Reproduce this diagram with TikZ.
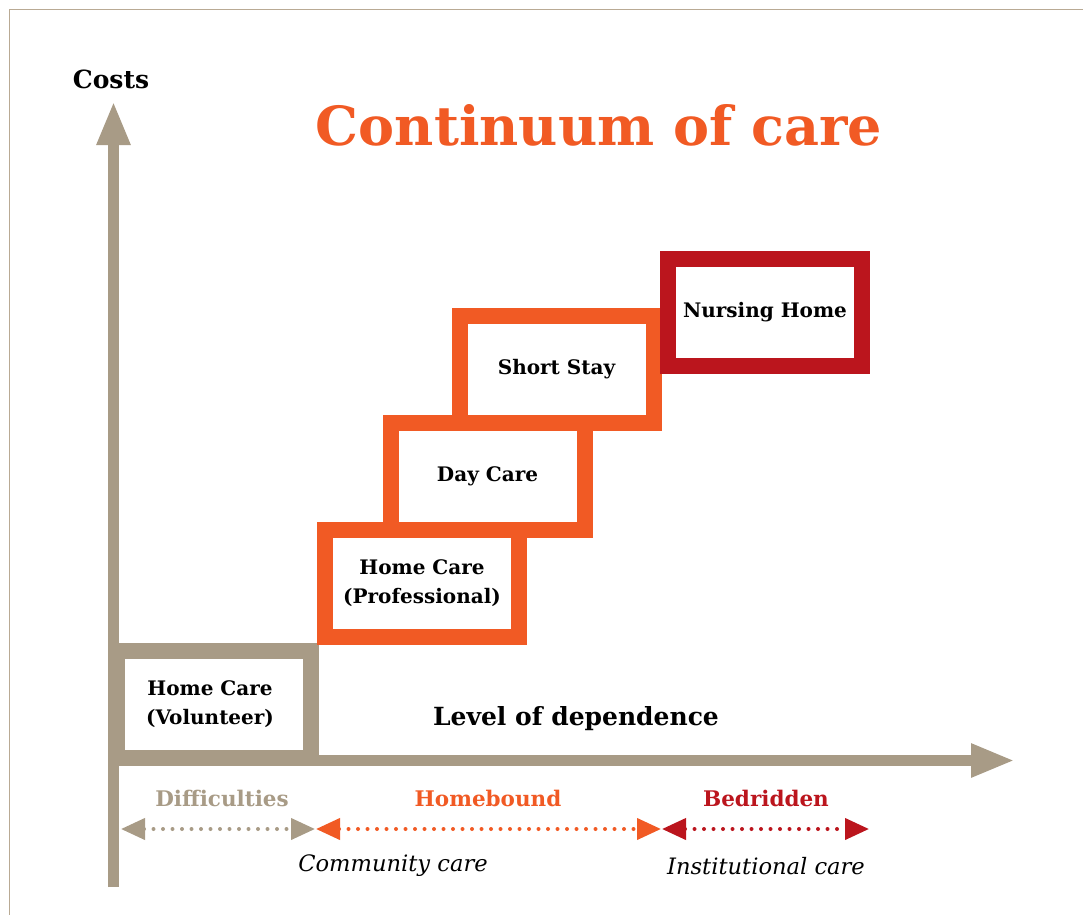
\documentclass[tikz,border=0pt]{standalone}
\usepackage{fontspec}
\setmainfont{DejaVu Serif}
\usepackage{tikz}
\usetikzlibrary{arrows.meta}
\definecolor{caretan}{RGB}{168,155,134}
\definecolor{frametan}{RGB}{185,170,148}
\definecolor{careorange}{RGB}{241,90,36}
\definecolor{carered}{RGB}{187,21,29}

\tikzset{
  stepbox/.style={draw=#1, line width=16pt, fill=white, minimum width=194pt,
    minimum height=107pt, inner sep=0pt, align=center,
    font=\fontsize{20}{29}\selectfont\bfseries},
  axisline/.style={caretan, line width=11pt, -{Triangle[length=44pt,width=31pt]}},
  stagearrow/.style={#1, line width=4pt, line cap=round, dash pattern=on 0pt off 9.5pt,
    {Triangle[length=24pt,width=21pt]}-{Triangle[length=24pt,width=21pt]}},
  stagelabel/.style={text=#1, font=\fontsize{21.5}{24}\selectfont\bfseries},
  carelabel/.style={font=\fontsize{22.6}{26}\selectfont\itshape}
}

\begin{document}
\begin{tikzpicture}[x=1pt,y=-1pt]
    \useasboundingbox (0,0) rectangle (1083,915);
    % Draw frame
    \draw[frametan, line width=1.5pt] (1083,9.5) -- (9.5,9.5) -- (9.5,915);

    % Draw axes
    \coordinate (origin) at (113.5,760.5);
    \coordinate (ybottom) at (113.5,887);
    \coordinate (ytop) at (113.5,101);
    \coordinate (xend) at (1015,760.5);
    \draw[axisline] (ybottom) -- (ytop);
    \draw[axisline] (108,760.5) -- (xend);

    \node[font=\fontsize{25}{28}\selectfont\bfseries] (costs) at (111,79) {Costs};
    \node[font=\fontsize{25}{28}\selectfont\bfseries] (dependence) at (576,719) {Level of dependence};
    \node[text=careorange, font=\fontsize{54}{60}\selectfont\bfseries] (title) at (599,125) {Continuum of care};

    % Draw steps
    \node[stepbox=caretan] (volunteer) at (214,704.5) {\hspace*{-8pt}Home Care\\\hspace*{-8pt}(Volunteer)};
    \node[stepbox=careorange] (professional) at (422,583.5) {Home Care\\(Professional)};
    \node[stepbox=careorange] (daycare) at (487.5,476) {Day Care};
    \node[stepbox=careorange] (shortstay) at (556.5,369.5) {Short Stay};
    \node[stepbox=carered] (nursing) at (765,312) {Nursing Home};

    % Draw stages
    \coordinate (d0) at (121,829);
    \coordinate (d1) at (315,829);
    \coordinate (h0) at (316,829);
    \coordinate (h1) at (661,829);
    \coordinate (b0) at (662,829);
    \coordinate (b1) at (869,829);
    \draw[stagearrow=caretan] (d0) -- (d1);
    \draw[stagearrow=careorange] (h0) -- (h1);
    \draw[stagearrow=carered] (b0) -- (b1);

    \node[stagelabel=caretan] (difficulties) at (222,798) {Difficulties};
    \node[stagelabel=careorange] (homebound) at (488,798) {Homebound};
    \node[stagelabel=carered] (bedridden) at (766,798) {Bedridden};

    \node[carelabel] (community) at (393,866) {Community care};
    \node[carelabel] (institutional) at (766,866) {Institutional care};
\end{tikzpicture}
\end{document}
